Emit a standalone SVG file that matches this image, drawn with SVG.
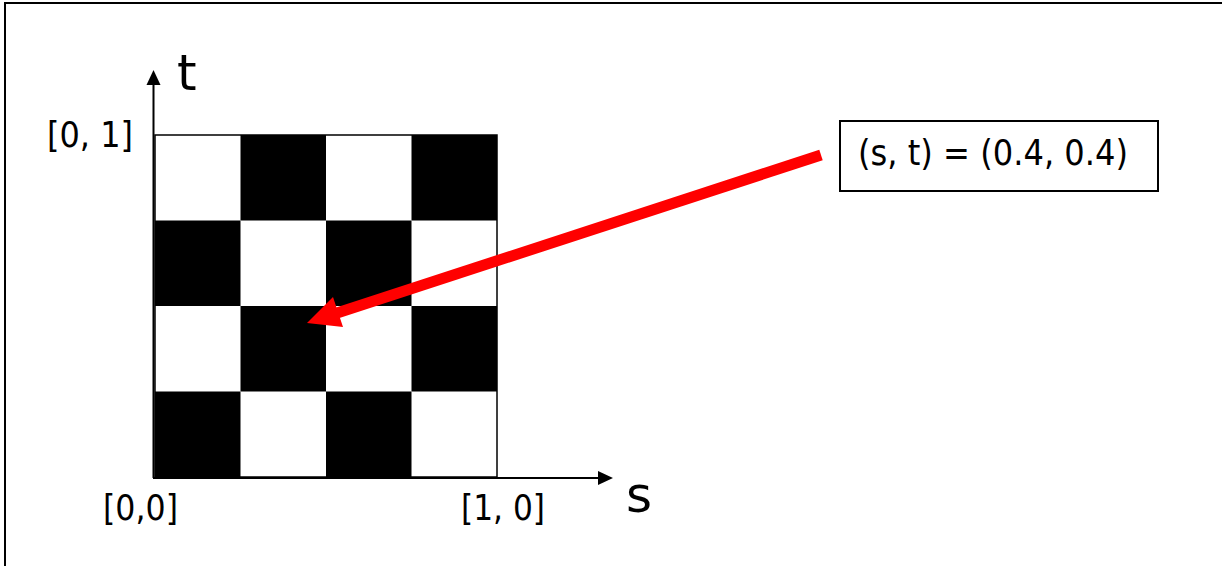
<svg xmlns="http://www.w3.org/2000/svg" width="1222" height="566" viewBox="0 0 1222 566">
<style>
text{font-family:"DejaVu Sans","Liberation Sans",sans-serif;fill:#000}
.lbl{font-size:36px}
.ax{font-size:50px}
.blk{fill:#000}
</style>
<rect x="0" y="0" width="1222" height="566" fill="#fff"/>
<rect x="5" y="3" width="1230" height="600" fill="none" stroke="#000" stroke-width="2"/>
<g id="board">
<rect x="155" y="135" width="342" height="342" fill="#fff" stroke="#000" stroke-width="1.5"/>
<rect class="blk" x="240.5" y="135" width="85.5" height="85.5"/>
<rect class="blk" x="411.5" y="135" width="85.5" height="85.5"/>
<rect class="blk" x="155" y="220.5" width="85.5" height="85.5"/>
<rect class="blk" x="326" y="220.5" width="85.5" height="85.5"/>
<rect class="blk" x="240.5" y="306" width="85.5" height="85.5"/>
<rect class="blk" x="411.5" y="306" width="85.5" height="85.5"/>
<rect class="blk" x="155" y="391.5" width="85.5" height="85.5"/>
<rect class="blk" x="326" y="391.5" width="85.5" height="85.5"/>
</g>
<g id="connectors">
<line x1="153.5" y1="478" x2="153.5" y2="83" stroke="#000" stroke-width="2"/>
<polygon points="153.5,70 146.5,85 160.5,85" fill="#000"/>
<line x1="153" y1="478" x2="600" y2="478" stroke="#000" stroke-width="2"/>
<polygon points="613,478 598,471 598,485" fill="#000"/>
<line x1="821" y1="155" x2="334" y2="314" stroke="#f00" stroke-width="11"/>
<polygon points="307,323 333,297 343,327" fill="#f00"/>
</g>
<g id="labels">
<text class="ax" x="177" y="90">t</text>
<text class="ax" x="626" y="512">s</text>
<text class="lbl" x="47" y="147" textLength="86" lengthAdjust="spacingAndGlyphs">[0, 1]</text>
<text class="lbl" x="103" y="520" textLength="75" lengthAdjust="spacingAndGlyphs">[0,0]</text>
<text class="lbl" x="461" y="520" textLength="84" lengthAdjust="spacingAndGlyphs">[1, 0]</text>
</g>
<g id="callout">
<rect x="840" y="121" width="318" height="70" fill="#fff" stroke="#000" stroke-width="2"/>
<text class="lbl" x="858" y="165" textLength="270" lengthAdjust="spacingAndGlyphs">(s, t) = (0.4, 0.4)</text>
</g>
</svg>
